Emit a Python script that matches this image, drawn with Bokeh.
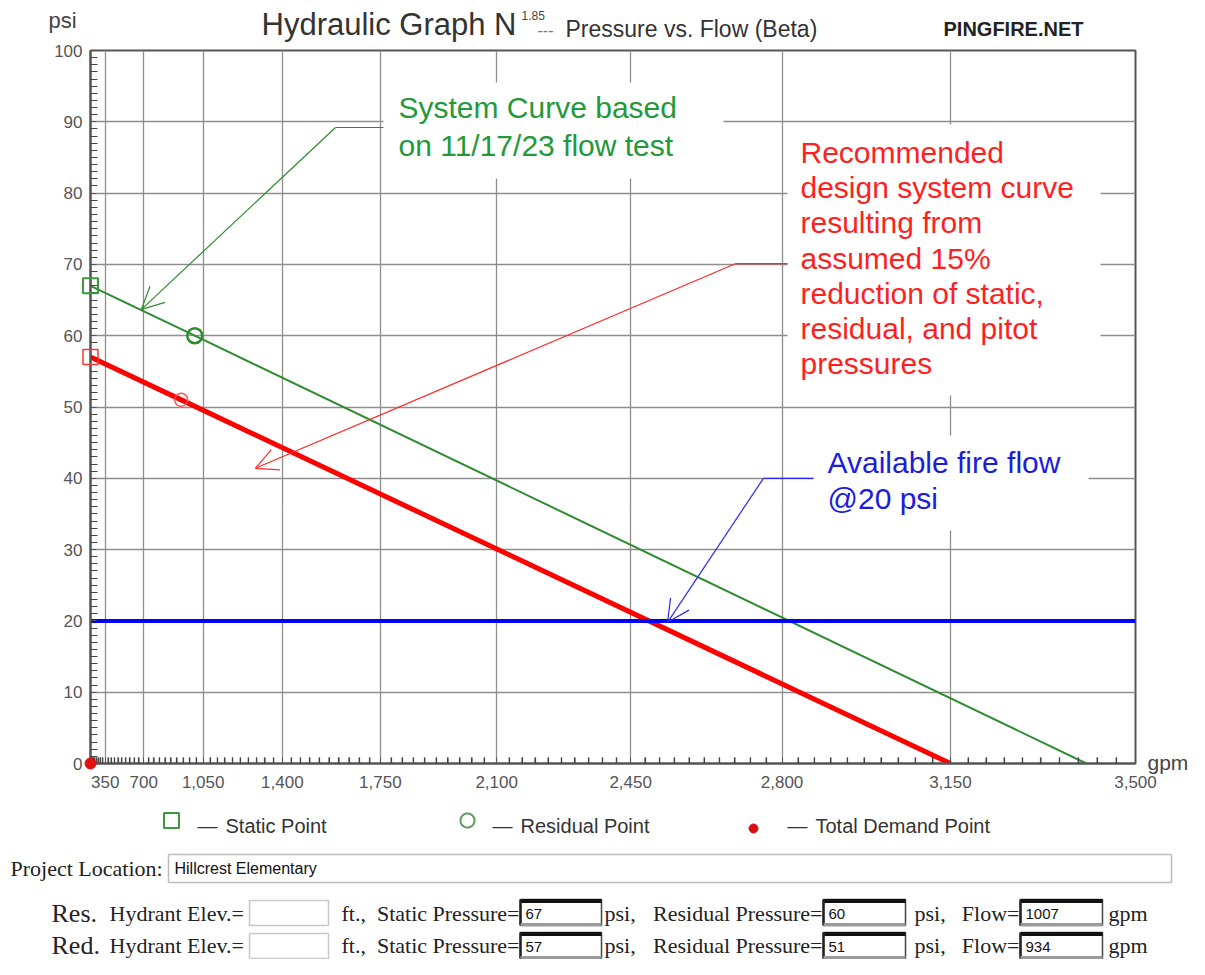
import numpy as np
from bokeh.plotting import figure
from bokeh.models import Range1d, FixedTicker, CustomJSTickFormatter, Arrow, OpenHead
from bokeh.core.properties import value
from bokeh.embed import file_html
from bokeh.resources import INLINE

# ---------------- data ----------------
N_EXP = 1.85
test_names = ["Res.", "Red."]
static_psi = [67, 57]
residual_psi = [60, 51]
test_flow_gpm = [1007, 934]
zero_psi_flow_gpm = [3410, 3150]      # where each curve reaches 0 psi
available_psi = 20
flow_axis_max = 3500
flow_ticks = [350, 700, 1050, 1400, 1750, 2100, 2450, 2800, 3150, 3500]
psi_ticks = [0, 10, 20, 30, 40, 50, 60, 70, 80, 90, 100]
demand_gpm = [0]
demand_psi = [0]
project_location = "Hillcrest Elementary"
hydrant_elev = ["", ""]
legend_labels = ["Static Point", "Residual Point", "Total Demand Point"]

green_note = ["System Curve based", "on 11/17/23 flow test"]
red_note = ["Recommended", "design system curve", "resulting from", "assumed 15%",
            "reduction of static,", "residual, and pitot", "pressures"]
blue_note = ["Available fire flow", "@20 psi"]
# leader paths (gpm, psi): text edge -> bend -> arrow tip
green_lead_gpm = [1760, 1598, 684]
green_lead_psi = [89.2, 89.2, 63.7]
red_lead_gpm = [2812, 2696, 1290]
red_lead_psi = [70.1, 70.1, 41.4]
blue_lead_gpm = [2868, 2759, 2539]
blue_lead_psi = [40.0, 40.0, 19.8]

SANS = "Liberation Sans"
SERIF = "Liberation Serif"
GREEN_LINE = "#2e8b30"
GREEN_TXT = "#22993a"
RED = "#ff0000"
RED_TXT = "#ff1f1f"
BLUE = "#0000ff"
BLUE_TXT = "#1c1cdc"

W, H = 1189, 959
FL, FR, FT, FB = 90, 1135, 50, 763   # frame edges in picture pixels


def n(q):
    return np.asarray(q, dtype=float) ** N_EXP


p = figure(width=W, height=H, output_backend="svg", toolbar_location=None,
           x_range=Range1d(0, float(n(flow_axis_max))), y_range=Range1d(0, 100),
           min_border_left=FL, min_border_right=W - FR, min_border_top=FT, min_border_bottom=H - FB,
           title=None, background_fill_color="white", border_fill_color="white")
# picture-pixel helper ranges for decorations
p.extra_x_ranges = {"px": Range1d(FL, FR)}
p.extra_y_ranges = {"py": Range1d(FB, FT)}
PX = dict(x_range_name="px", y_range_name="py")
OV = dict(x_range_name="px", y_range_name="py", level="overlay")

minor_flows = [f for f in range(35, flow_axis_max, 35) if f % 350 != 0]
xt = FixedTicker(ticks=[float(v) for v in n(flow_ticks)],
                 minor_ticks=[float(v) for v in n(minor_flows)])
yt = FixedTicker(ticks=psi_ticks, minor_ticks=[v for v in range(1, 100) if v % 10 != 0])
p.xaxis.ticker = xt
p.xgrid.ticker = xt
p.yaxis.ticker = yt
p.ygrid.ticker = yt
p.xaxis.formatter = CustomJSTickFormatter(
    code="return Math.round(Math.pow(tick, 1/1.85)).toLocaleString('en-US');")

for ax in (p.xaxis, p.yaxis):
    ax.axis_line_color = "#555555"
    ax.axis_line_width = 2
    ax.major_tick_out = 0
    ax.major_tick_in = 6
    ax.major_tick_line_color = "#555555"
    ax.minor_tick_out = 0
    ax.minor_tick_line_color = "#444444"
    ax.minor_tick_line_width = 1.2
    ax.major_label_text_font = SANS
    ax.major_label_text_font_size = "17px"
    ax.major_label_text_color = "#555555"
p.xaxis.minor_tick_in = 6
p.yaxis.minor_tick_in = 7
p.xaxis.major_label_standoff = 12
p.yaxis.major_label_standoff = 8

p.grid.grid_line_color = "#8e8e8e"
p.grid.grid_line_width = 1.3
p.outline_line_color = "#555555"
p.outline_line_width = 2

# white backgrounds behind the note texts
p.quad(left=[383, 787, 813], right=[723, 1100, 1088], top=[82, 124, 435], bottom=[178, 395, 530],
       fill_color="white", line_color=None, **PX)

# x minor tick marks along the flow axis (every 35 gpm, on the N^1.85 scale)
p.segment(x0=n(minor_flows), y0=[FB] * len(minor_flows), x1=n(minor_flows),
          y1=[FB - 6] * len(minor_flows), line_color="#444444", line_width=1.2, y_range_name="py")

# system curves
p.line(n([0, test_flow_gpm[0], zero_psi_flow_gpm[0]]), [static_psi[0], residual_psi[0], 0],
       line_color=GREEN_LINE, line_width=2)
p.line(n([0, test_flow_gpm[1], zero_psi_flow_gpm[1]]), [static_psi[1], residual_psi[1], 0],
       line_color=RED, line_width=5)
p.line(n([0, flow_axis_max]), [available_psi, available_psi], line_color=BLUE, line_width=4)

# leaders with arrows
for g, s, c in ((green_lead_gpm, green_lead_psi, GREEN_LINE),
                (red_lead_gpm, red_lead_psi, "#ff2a2a"),
                (blue_lead_gpm, blue_lead_psi, "#2a2aee")):
    p.line(n(g[:2]), s[:2], line_color=c, line_width=1.2)
    p.add_layout(Arrow(x_start=float(n(g[1])), y_start=s[1], x_end=float(n(g[2])), y_end=s[2],
                       line_color=c, line_width=1.2,
                       end=OpenHead(size=22, line_color=c, line_width=1.2)))


def txt(xs, ys, texts, size, color="#333333", font=SANS, align="left", style="normal", level="overlay"):
    """ys are vertical centres of the text (picture pixels)."""
    p.text(x=xs, y=ys, text=texts, text_font=value(font), text_font_size=size, text_color=color,
           text_align=align, text_font_style=style, text_baseline="middle",
           x_range_name="px", y_range_name="py", level=level)


def note(lines, x0, c0, step, color):
    txt([x0] * len(lines), [c0 + i * step for i in range(len(lines))], lines, "30px", color,
        level="glyph")


note(green_note, 398, 107, 38, GREEN_TXT)
note(red_note, 800, 152, 35.2, RED_TXT)
note(blue_note, 827, 462, 36, BLUE_TXT)

# test points
p.scatter(n([0]), [static_psi[0]], marker="square", size=15, fill_color=None,
          line_color="#3a9a3a", line_width=2, level="overlay")
p.scatter(n([0]), [static_psi[1]], marker="square", size=15, fill_color=None,
          line_color="#ff3333", line_width=1.5, level="overlay")
p.scatter(n([test_flow_gpm[0]]), [residual_psi[0]], marker="circle", size=15, fill_color=None,
          line_color="#2e8b2e", line_width=2.5, level="overlay")
p.scatter(n([test_flow_gpm[1]]), [residual_psi[1]], marker="circle", size=13, fill_color=None,
          line_color="#ff5555", line_width=1.5, level="overlay")
p.scatter(n(demand_gpm), demand_psi, marker="circle", size=11, fill_color="#e01010",
          line_color="#e01010", level="overlay")

# header and unit labels
txt([48], [20], ["psi"], "22px", "#444444")
txt([516], [24], ["Hydraulic Graph N"], "31px", "#333333", align="right")
txt([521], [15], ["1.85"], "12px", "#444444")
txt([537], [29], ["---"], "16px", "#777777")
txt([565], [28], ["Pressure vs. Flow (Beta)"], "23px", "#333333")
txt([943], [28], ["PINGFIRE.NET"], "20px", "#222222", style="bold")
txt([1147], [762], ["gpm"], "21px", "#444444")

# legend (marker shapes drawn as outlines so they are not culled outside the frame)
p.quad(left=[163.5], right=[178.5], top=[812.5], bottom=[827.5], fill_color=None,
       line_color="#3c9a3c", line_width=2, **OV)
ang = np.linspace(0, 2 * np.pi, 48)
p.line(467 + 7 * np.cos(ang), 820 + 7 * np.sin(ang), line_color="#5f9a5f", line_width=2, **OV)
p.patch(753 + 4.5 * np.cos(ang), 828 + 4.5 * np.sin(ang), fill_color="#d81010",
        line_color="#d81010", **OV)
txt([197, 492, 787], [825] * 3, ["—"] * 3, "20px")
txt([225, 520, 815], [825] * 3, legend_labels, "20px")

# project location form
txt([10], [868], ["Project Location:"], "22px", "#222222", font=SERIF)
p.quad(left=[168], right=[1171], top=[854], bottom=[882], fill_color="white",
       line_color="#bdbdbd", line_width=1.5, **OV)
txt([174], [868], [project_location], "16px", "#111111")

row_c = [913, 945]
row_top = [899, 932]
BOX_H = 26
box_l = [520, 823, 1020]
box_r = [601, 905, 1102]
for i in range(2):
    c = row_c[i]
    t = row_top[i]
    txt([51], [c], [test_names[i]], "26px", "#222222", font=SERIF)
    txt([109, 341, 604, 914, 1108], [c] * 5, ["Hydrant Elev.=", "ft.,", "psi,", "psi,", "gpm"],
        "22px", "#222222", font=SERIF)
    txt([519, 822, 1019], [c] * 3, ["Static Pressure=", "Residual Pressure=", "Flow="],
        "22px", "#222222", font=SERIF, align="right")
    # elevation box
    p.quad(left=[249], right=[328], top=[t + 1], bottom=[t + BOX_H], fill_color="white",
           line_color="#c8c8c8", line_width=1.5, **OV)
    txt([253], [t + 14], [hydrant_elev[i]], "15px", "#111111")
    # value boxes
    p.quad(left=box_l, right=box_r, top=[t] * 3, bottom=[t + BOX_H] * 3, fill_color="white",
           line_color="#444444", line_width=1.5, **OV)
    p.segment(x0=box_l, y0=[t + 1.5] * 3, x1=box_r, y1=[t + 1.5] * 3, line_color="#111111",
              line_width=4, **OV)
    p.segment(x0=box_l, y0=[t] * 3, x1=box_l, y1=[t + BOX_H] * 3, line_color="#222222",
              line_width=2.5, **OV)
    p.segment(x0=box_l, y0=[t + BOX_H - 1] * 3, x1=box_r, y1=[t + BOX_H - 1] * 3,
              line_color="#9a9a9a", line_width=3, **OV)
    vals = [str(static_psi[i]), str(residual_psi[i]), str(test_flow_gpm[i])]
    txt([v + 5 for v in box_l], [t + 14] * 3, vals, "15px", "#111111")

open("out.html", "w").write(file_html(p, INLINE))
